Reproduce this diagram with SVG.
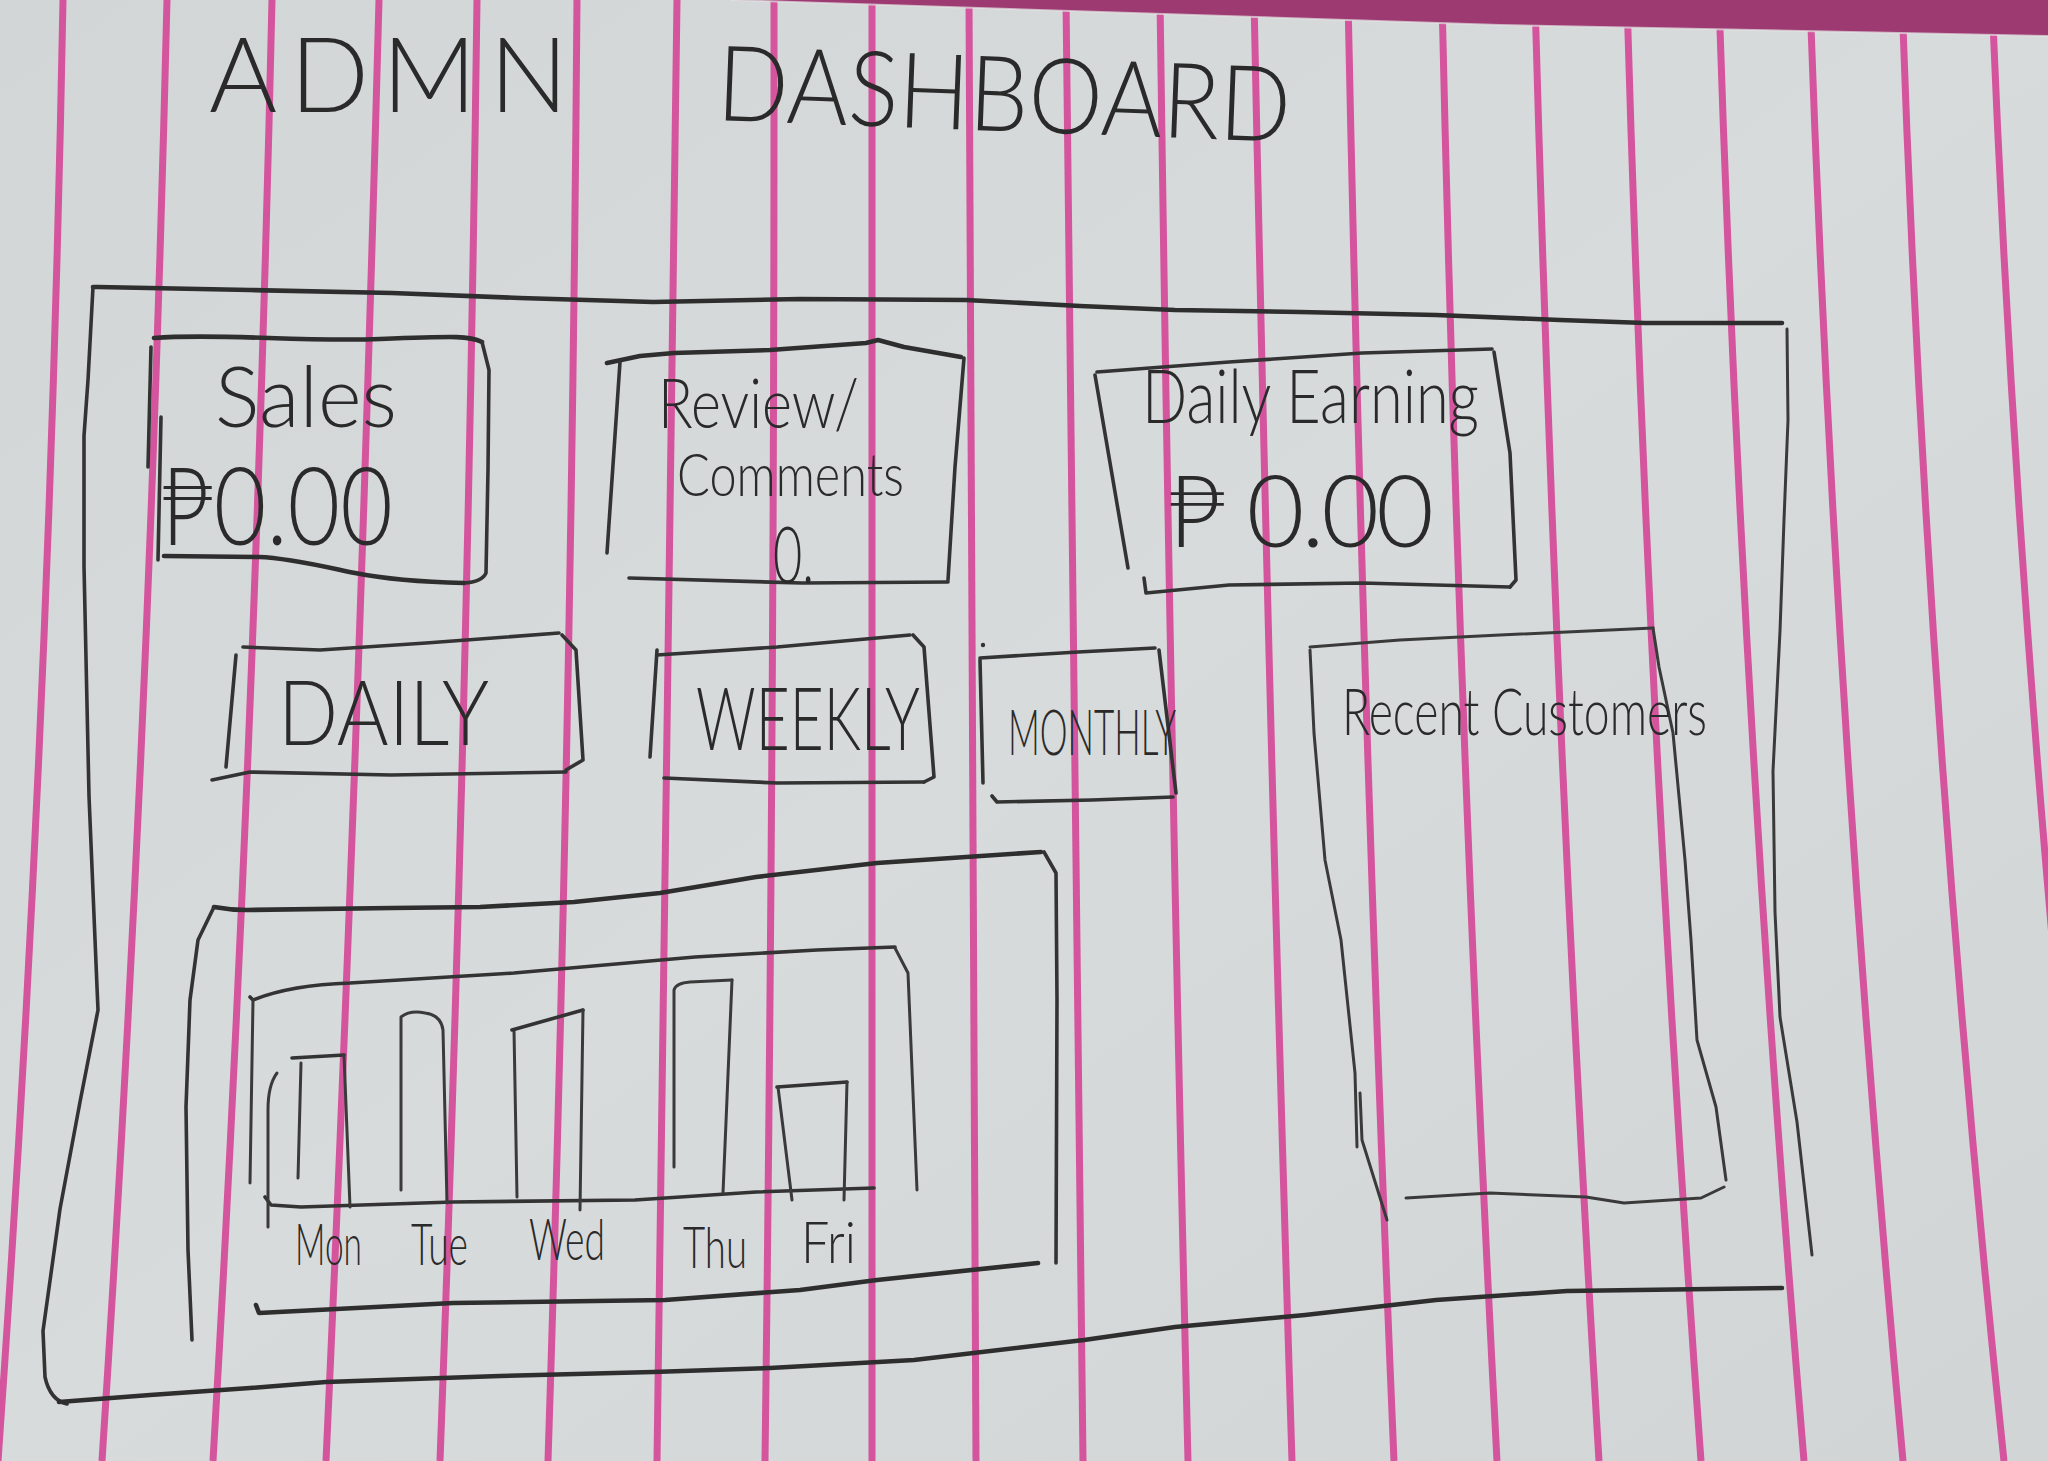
<svg xmlns="http://www.w3.org/2000/svg" width="2048" height="1461" viewBox="0 0 2048 1461">
  <defs>
    <linearGradient id="paper" x1="0" y1="0" x2="1" y2="1">
      <stop offset="0" stop-color="#d3d6d6"/>
      <stop offset="0.5" stop-color="#d8dbdb"/>
      <stop offset="1" stop-color="#d2d5d5"/>
    </linearGradient>
    <style>
      .rule { fill: none; stroke: #d4549d; stroke-width: 7; }
      .pen { fill: none; stroke: #333; stroke-width: 3.6; stroke-linecap: round; stroke-linejoin: round; }
      .pen-thin { fill: none; stroke: #3a3a3a; stroke-width: 3; stroke-linecap: round; stroke-linejoin: round; }
      .pen-bold { fill: none; stroke: #2e2e2e; stroke-width: 4.6; stroke-linecap: round; stroke-linejoin: round; }
      .hand { font-family: "Lato", "Liberation Sans", "DejaVu Sans", sans-serif; font-weight: 300; fill: #2a2a2a; }
    </style>
  </defs>

  <!-- paper -->
  <rect x="0" y="0" width="2048" height="1461" fill="url(#paper)"/>

  <!-- vertical pink rules, fanning slightly towards the bottom -->
  <g id="rules">
    <path class="rule" d="M63,0 Q49.5,730 -2,1461"/>
    <path class="rule" d="M167,0 Q149.5,730 102,1461"/>
    <path class="rule" d="M272,0 Q255.5,730 213,1461"/>
    <path class="rule" d="M379,0 Q359.5,730 326,1461"/>
    <path class="rule" d="M477,0 Q467.5,730 440,1461"/>
    <path class="rule" d="M577,0 Q571.5,730 548,1461"/>
    <path class="rule" d="M677,0 Q669,730 657,1461"/>
    <path class="rule" d="M774,0 Q774.5,730 765,1461"/>
    <path class="rule" d="M872,0 Q874,730 872,1461"/>
    <path class="rule" d="M969,0 Q971.5,730 976,1461"/>
    <path class="rule" d="M1066,0 Q1075.5,730 1083,1461"/>
    <path class="rule" d="M1160,0 Q1170,730 1188,1461"/>
    <path class="rule" d="M1254,0 Q1269,730 1292,1461"/>
    <path class="rule" d="M1348,0 Q1363,730 1394,1461"/>
    <path class="rule" d="M1442,0 Q1458.5,730 1497,1461"/>
    <path class="rule" d="M1535,0 Q1555,730 1599,1461"/>
    <path class="rule" d="M1627,0 Q1648,730 1701,1461"/>
    <path class="rule" d="M1719,0 Q1742.5,730 1804,1461"/>
    <path class="rule" d="M1810,0 Q1835.5,730 1903,1461"/>
    <path class="rule" d="M1902,0 Q1927,730 2004,1461"/>
    <path class="rule" d="M1992,0 Q2021.5,730 2105,1461"/>
  </g>

  <!-- magenta backing sheet along the top edge -->
  <path d="M731,0 L2048,0 L2048,36 L1500,25 Z" fill="#9c3a71"/>
  <path d="M731,0 L1500,25 L2048,36" fill="none" stroke="#e4e6e6" stroke-width="2" opacity="0.7"/>

  <!-- title -->
  <g id="title">
    <text class="hand" x="209" y="112" font-size="104" textLength="359" lengthAdjust="spacing">ADMN</text>
    <text class="hand" x="716" y="120" font-size="105" textLength="574" lengthAdjust="spacingAndGlyphs" transform="rotate(2.2 716 120)">DASHBOARD</text>
  </g>

  <!-- dashboard frame -->
  <g id="main-panel">
    <path class="pen-bold" d="M93,287 L98,287 L250,290 L392,293 L520,298 L653,302 L800,299 L966,300 L1080,306 L1175,310 L1300,312 L1436,315 L1560,320 L1645,323 L1782,323"/>
    <path class="pen-thin" d="M1787,329 L1788,420 L1784,520 L1780,631 L1773,771 L1775,912 L1780,1017 L1797,1122 L1812,1255"/>
    <path class="pen" d="M93,287 L88,380 L84,436 L84,566 L89,796 L97,987 L98,1010 L80,1102 L60,1209 L43,1331 L45,1377 Q50,1400 67,1404"/>
    <path class="pen-bold" d="M59,1402 L150,1395 L250,1388 L326,1382 L500,1376 L653,1372 L770,1368 L914,1360 L1084,1340 L1175,1327 L1305,1315 L1436,1300 L1567,1291 L1782,1288"/>
  </g>

  <!-- summary cards -->
  <g id="card-sales">
    <path class="pen-bold" d="M154,338 C220,333 300,342 380,339 S470,336 482,342"/>
    <path class="pen" d="M482,342 L489,370 L488,470 L486,573 Q482,582 464,583"/>
    <path class="pen-bold" d="M464,583 C420,582 380,578 355,573 S290,558 259,557 L164,556"/>
    <path class="pen" d="M151,347 L148,467"/>
    <path class="pen" d="M161,417 L158,560"/>
    <text class="hand" x="215" y="427" font-size="85" textLength="182" lengthAdjust="spacingAndGlyphs">Sales</text>
    <text class="hand" x="161" y="545" font-size="108" textLength="232" lengthAdjust="spacingAndGlyphs">₱0.00</text>
  </g>

  <g id="card-reviews">
    <path class="pen-bold" d="M607,363 L640,356 L674,353 L770,350 L866,343 L878,340 L904,347 L961,357"/>
    <path class="pen" d="M964,358 L955,467 L948,580"/>
    <path class="pen" d="M948,582 L802,583 L629,578"/>
    <path class="pen" d="M620,362 L607,553"/>
    <text class="hand" x="658" y="428" font-size="68" textLength="201" lengthAdjust="spacingAndGlyphs">Review/</text>
    <text class="hand" x="677" y="496" font-size="60" textLength="227" lengthAdjust="spacingAndGlyphs">Comments</text>
    <text class="hand" x="773" y="583" font-size="78" textLength="41" lengthAdjust="spacingAndGlyphs">0.</text>
  </g>

  <g id="card-earning">
    <path class="pen" d="M1097,372 L1229,362 L1362,353 L1492,349"/>
    <path class="pen" d="M1494,352 L1510,453 L1516,580 L1510,587"/>
    <path class="pen" d="M1510,587 L1362,583 L1229,585 L1146,593 L1144,578"/>
    <path class="pen" d="M1095,375 L1128,568"/>
    <text class="hand" x="1142" y="423" font-size="74" textLength="337" lengthAdjust="spacingAndGlyphs">Daily Earning</text>
    <text class="hand" x="1168" y="547" font-size="100" textLength="266" lengthAdjust="spacing">₱ 0.00</text>
  </g>

  <!-- period switch buttons -->
  <g id="btn-daily">
    <path class="pen" d="M243,647 L320,650 L426,643 L559,633"/>
    <path class="pen" d="M562,635 L576,650 L583,760 L566,770"/>
    <path class="pen" d="M566,772 L391,775 L250,772 L212,780"/>
    <path class="pen" d="M236,655 L226,767"/>
    <text class="hand" x="278" y="745" font-size="90" textLength="211" lengthAdjust="spacingAndGlyphs">DAILY</text>
  </g>

  <g id="btn-weekly">
    <path class="pen" d="M657,655 L777,647 L910,635"/>
    <path class="pen" d="M913,635 L924,647 L934,777 L924,782"/>
    <path class="pen" d="M924,782 L777,783 L664,778"/>
    <path class="pen" d="M657,650 L650,757"/>
    <text class="hand" x="696" y="750" font-size="86" textLength="224" lengthAdjust="spacingAndGlyphs">WEEKLY</text>
  </g>

  <g id="btn-monthly">
    <path class="pen" d="M980,658 L1078,652 L1155,648"/>
    <path class="pen" d="M1159,650 L1176,793"/>
    <path class="pen" d="M1173,797 L1092,800 L997,802 L992,796"/>
    <path class="pen" d="M980,660 L983,783"/>
    <circle cx="983" cy="645" r="2.2" fill="#333"/>
    <text class="hand" x="1008" y="755" font-size="64" textLength="168" lengthAdjust="spacingAndGlyphs">MONTHLY</text>
  </g>

  <!-- recent customers panel -->
  <g id="recent-customers">
    <path class="pen-thin" d="M1310,647 L1400,640 L1500,635 L1653,628"/>
    <path class="pen-thin" d="M1653,628 L1659,667 L1673,733 L1685,860 L1691,940 L1697,1040 L1716,1107 L1726,1180"/>
    <path class="pen-thin" d="M1406,1198 L1490,1193 L1586,1197 L1624,1203 L1701,1198 L1724,1187"/>
    <path class="pen-thin" d="M1310,650 L1314,733 L1325,860 L1341,940 L1355,1073 L1357,1147"/>
    <path class="pen-thin" d="M1360,1093 L1362,1140 L1387,1220"/>
    <text class="hand" x="1342" y="735" font-size="66" textLength="365" lengthAdjust="spacingAndGlyphs">Recent Customers</text>
  </g>

  <!-- sales chart -->
  <g id="chart">
    <path class="pen-bold" d="M214,907 Q230,910 247,910 L392,908 L480,907 L574,902 L660,893 L756,877 L877,863 L1041,852"/>
    <path class="pen" d="M1044,852 L1056,873 L1057,1000 L1056,1263"/>
    <path class="pen-bold" d="M1038,1263 L877,1280 L800,1290 L665,1300 L453,1303 L259,1313 L256,1305"/>
    <path class="pen" d="M214,907 L198,940 L190,1000 L186,1107 L188,1250 L192,1340"/>

    <path class="pen" d="M250,997 L253,1000 Q290,985 350,983 L514,973 L695,957 L817,950 L895,947"/>
    <path class="pen-thin" d="M895,948 L908,973 L917,1190"/>
    <path class="pen-thin" d="M253,1000 L250,1183"/>
    <path class="pen" d="M265,1197 L271,1205 L301,1207 L453,1202 L635,1200 L756,1192 L874,1188"/>

    <!-- bars -->
    <path class="pen" d="M292,1058 L344,1055"/>
    <path class="pen-thin" d="M301,1063 L298,1178"/>
    <path class="pen-thin" d="M344,1055 L350,1207"/>
    <path class="pen-thin" d="M277,1073 Q268,1085 268,1110 L268,1227"/>
    <path class="pen-thin" d="M401,1190 L401,1017 Q410,1010 425,1013 Q441,1015 443,1030 L447,1203"/>
    <path class="pen-thin" d="M517,1197 L514,1030"/>
    <path class="pen" d="M512,1030 L583,1010"/>
    <path class="pen-thin" d="M583,1010 L580,1210"/>
    <path class="pen-thin" d="M674,1167 L674,990 Q676,983 690,982 L732,980"/>
    <path class="pen-thin" d="M732,980 L723,1193"/>
    <path class="pen" d="M777,1087 L847,1082"/>
    <path class="pen-thin" d="M778,1087 L792,1200"/>
    <path class="pen-thin" d="M847,1082 L844,1200"/>

    <text class="hand" x="295" y="1265" font-size="58" textLength="67" lengthAdjust="spacingAndGlyphs">Mon</text>
    <text class="hand" x="411" y="1265" font-size="58" textLength="57" lengthAdjust="spacingAndGlyphs">Tue</text>
    <text class="hand" x="529" y="1260" font-size="58" textLength="76" lengthAdjust="spacingAndGlyphs">Wed</text>
    <text class="hand" x="683" y="1268" font-size="58" textLength="64" lengthAdjust="spacingAndGlyphs">Thu</text>
    <text class="hand" x="801" y="1263" font-size="58" textLength="55" lengthAdjust="spacingAndGlyphs">Fri</text>
  </g>
</svg>
